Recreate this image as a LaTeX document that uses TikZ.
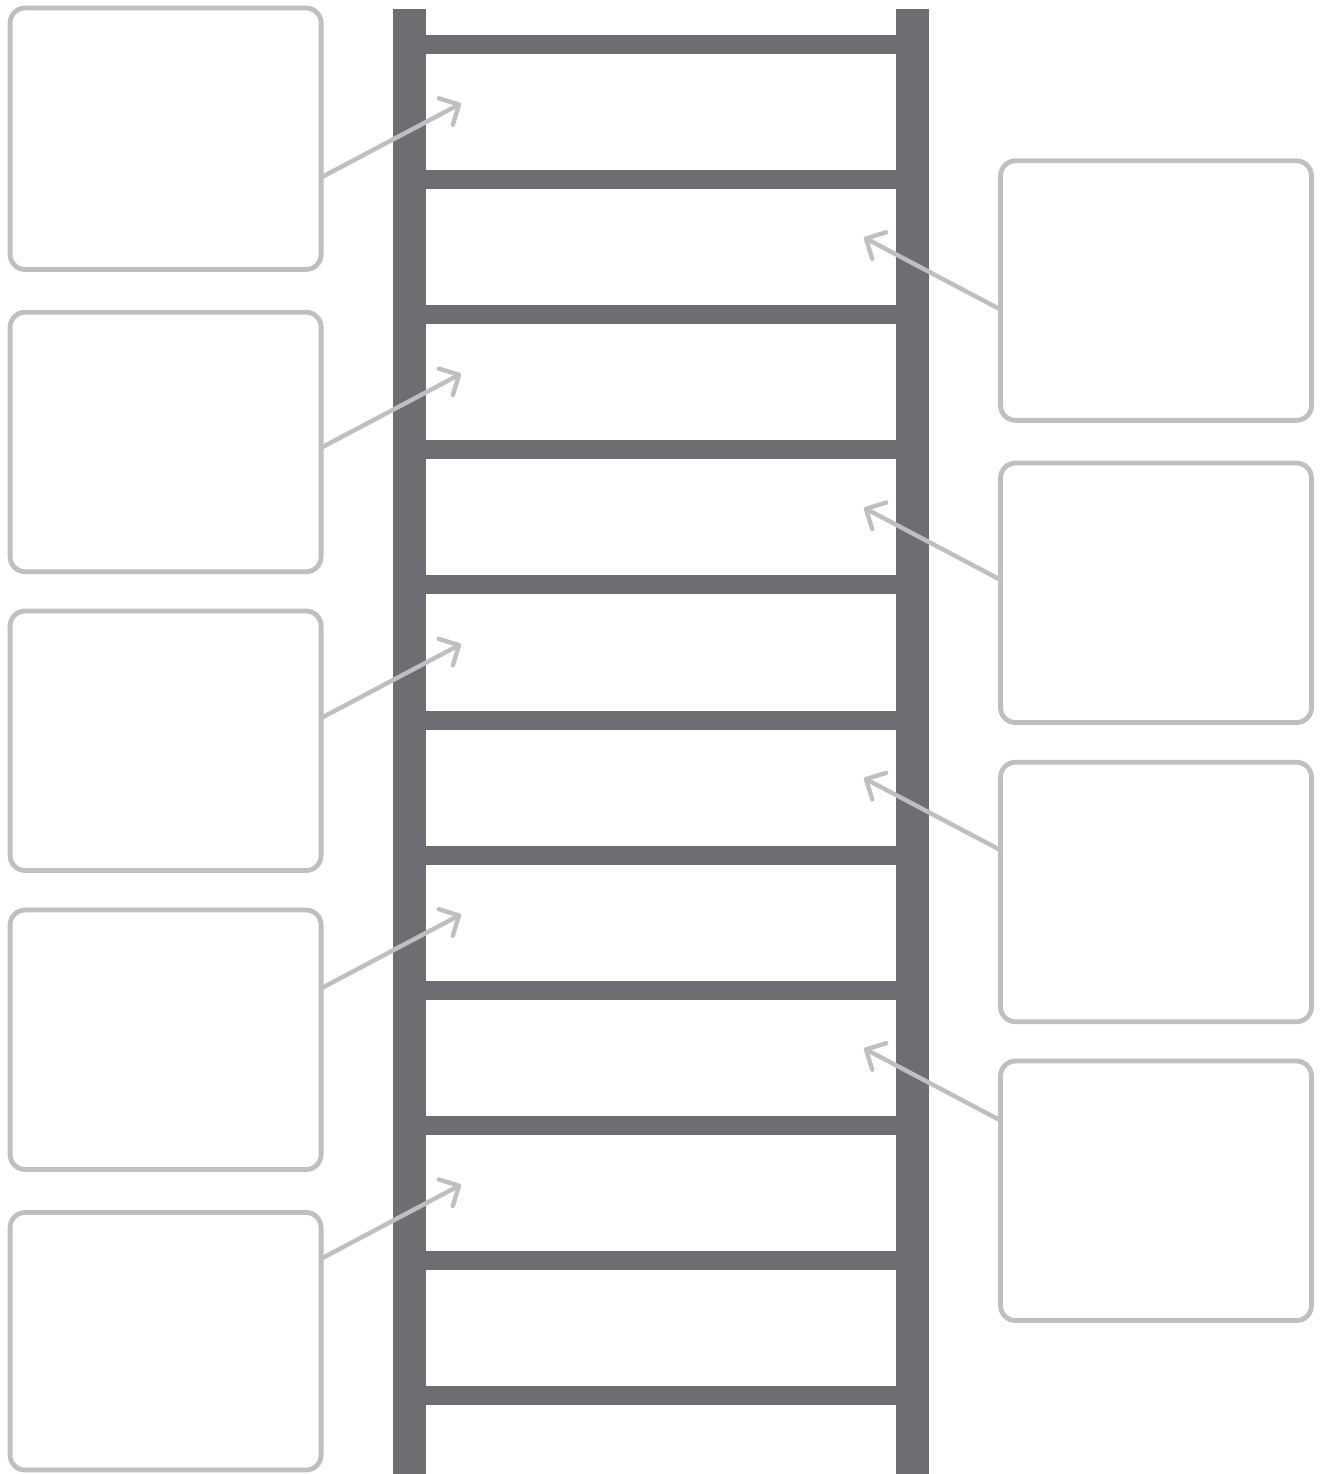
\documentclass[tikz,border=0pt]{standalone}
\usetikzlibrary{arrows.meta}
\definecolor{railgray}{RGB}{109,110,113}
\definecolor{boxgray}{RGB}{190,191,193}
\begin{document}
\begin{tikzpicture}[x=1pt,y=-1pt,
  rail/.style={fill=railgray,draw=none},
  card/.style={draw=boxgray,line width=4.8pt,rounded corners=15pt,rectangle,
     minimum width=311pt,minimum height=259.5pt,inner sep=0pt,outer sep=0pt},
  arr/.style={draw=boxgray,line width=4.4pt,line cap=round,line join=round,
     -{Straight Barb[length=15pt,width=30pt,line cap=round,line join=round]}}]
\useasboundingbox (0,0) rectangle (1325,1474);
% rails
\fill[rail] (393,9) rectangle (426,1474);
\fill[rail] (896,9) rectangle (929,1474);
% rungs
\foreach \k in {0,...,10}{
  \fill[rail] (425,{44.5+135.1*\k-9.5}) rectangle (897,{44.5+135.1*\k+9.5});
}
% left boxes
\node[card,minimum height=261.5pt] (L1) at (165.6,138.75) {};
\node[card] (L2) at (165.6,442) {};
\node[card] (L3) at (165.6,740.75) {};
\node[card] (L4) at (165.6,1039.75) {};
\node[card,minimum height=257.5pt] (L5) at (165.6,1341.25) {};
% right boxes
\node[card] (R1) at (1156,290.6) {};
\node[card] (R2) at (1156,592.8) {};
\node[card] (R3) at (1156,892) {};
\node[card] (R4) at (1156,1190.8) {};
% arrow anchor coordinates
\foreach \k in {1,...,5}{
  \coordinate (ls\k) at (0,{177.5+270.3*(\k-1)});
  \coordinate (lt\k) at (461,{103.5+270.3*(\k-1)});
}
\foreach \k in {1,...,4}{
  \coordinate (rs\k) at (0,{309.5+270.3*(\k-1)});
  \coordinate (rt\k) at (864,{237.5+270.3*(\k-1)});
}
% arrows
\foreach \k in {1,...,5}{
  \draw[arr] (L\k.east |- ls\k) -- (lt\k);
}
\foreach \k in {1,...,4}{
  \draw[arr] (R\k.west |- rs\k) -- (rt\k);
}
\end{tikzpicture}
\end{document}
